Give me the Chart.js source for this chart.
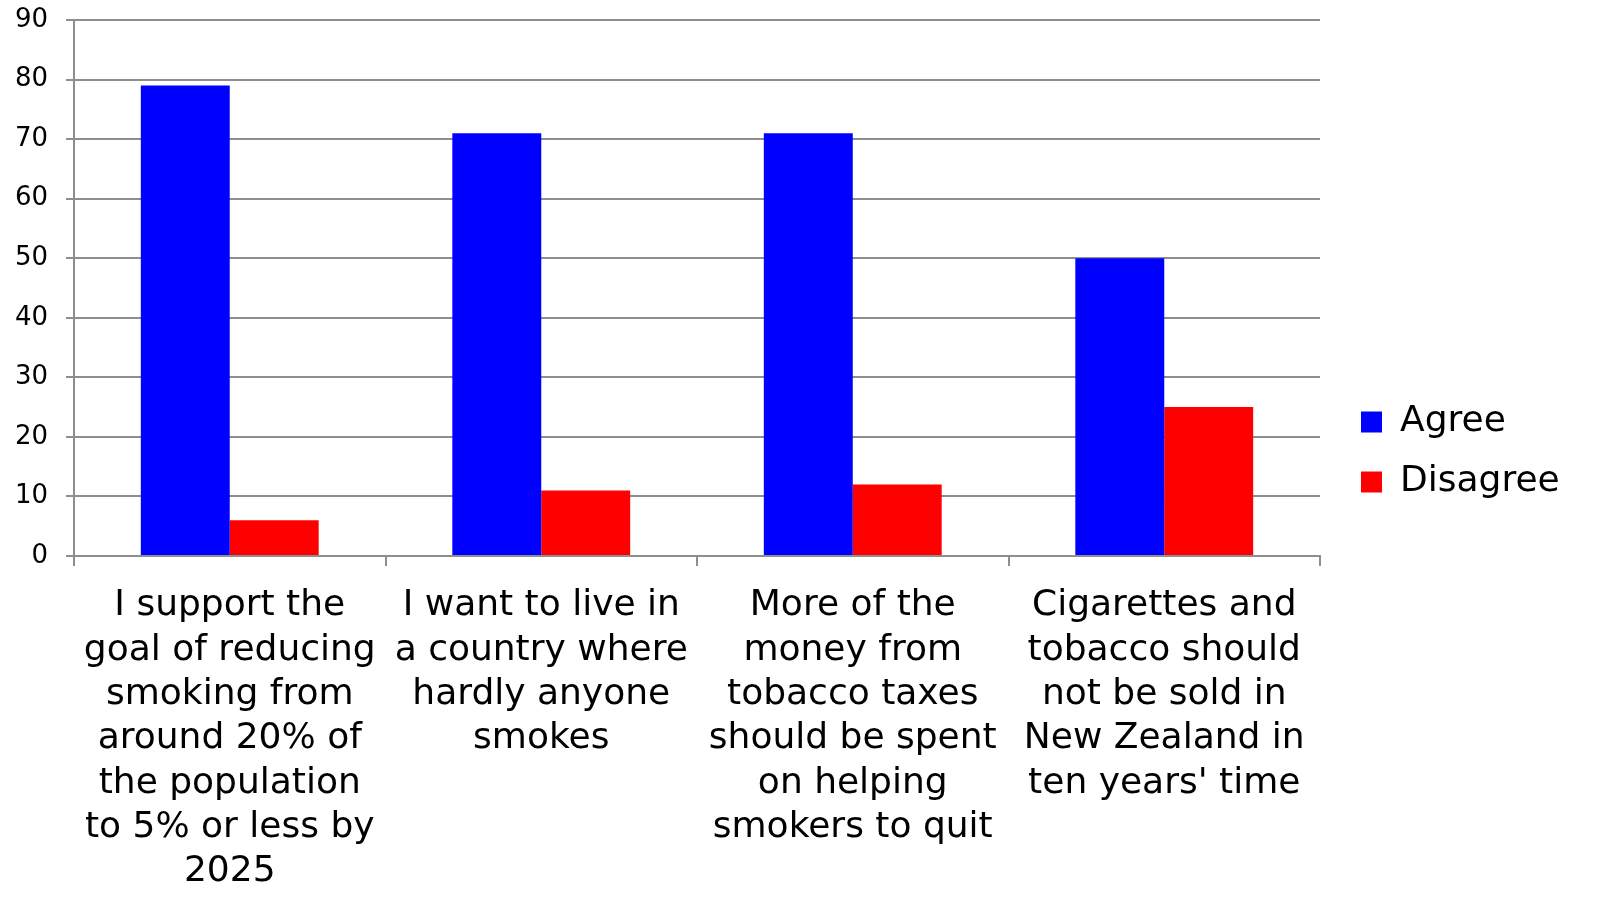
<!DOCTYPE html>
<html>
<head>
<meta charset="utf-8">
<script src="https://cdn.jsdelivr.net/npm/chart.js@4/dist/chart.umd.min.js"></script>
<style>
  html, body { margin: 0; padding: 0; background: #ffffff; }
  #wrap { width: 1604px; height: 909px; }
</style>
</head>
<body>
<div id="wrap"><canvas id="c" width="1604" height="909"></canvas></div>
<script>
const categories = [
  ["I support the", "goal of reducing", "smoking from", "around 20% of", "the population", "to 5% or less by", "2025"],
  ["I want to live in", "a country where", "hardly anyone", "smokes"],
  ["More of the", "money from", "tobacco taxes", "should be spent", "on helping", "smokers to quit"],
  ["Cigarettes and", "tobacco should", "not be sold in", "New Zealand in", "ten years' time"]
];
const seriesNames = ["Agree", "Disagree"];
const agreeValues = [79, 71, 71, 50];
const disagreeValues = [6, 11, 12, 25];
const yMin = 0, yMax = 90, yStep = 10;

const GRID = '#8e8e8e';
const FONT = '"DejaVu Sans", Verdana, sans-serif';

const legendFix = {
  id: 'legendFix',
  beforeLayout(chart) {
    const lg = chart.legend;
    if (lg && !lg._patched) {
      const orig = lg.fit.bind(lg);
      lg.fit = function () { orig(); this.width = 284; };
      lg._patched = true;
    }
  },
  afterLayout(chart) {
    const lg = chart.legend;
    if (!lg) return;
    const pad = lg.options.labels.padding;
    lg.left = 1361 - pad;
    lg.right = lg.left + 284;
    lg.top = 404 - pad;
    lg.bottom = 909;
  }
};

new Chart(document.getElementById('c'), {
  type: 'bar',
  data: {
    labels: categories,
    datasets: [
      { label: seriesNames[0], data: agreeValues, backgroundColor: '#0000ff', borderWidth: 0,
        categoryPercentage: 0.571, barPercentage: 1.0 },
      { label: seriesNames[1], data: disagreeValues, backgroundColor: '#ff0000', borderWidth: 0,
        categoryPercentage: 0.571, barPercentage: 1.0 }
    ]
  },
  plugins: [legendFix],
  options: {
    responsive: false,
    devicePixelRatio: 1,
    animation: false,
    layout: { padding: { top: 20, right: 0, bottom: 0, left: 0 } },
    plugins: {
      legend: {
        position: 'right',
        align: 'start',
        labels: {
          boxWidth: 21,
          boxHeight: 21,
          padding: 24,
          color: '#000000',
          font: { family: FONT, size: 36 }
        }
      },
      tooltip: { enabled: false }
    },
    scales: {
      x: {
        afterFit(scale) { scale.height = 353; },
        grid: { drawOnChartArea: false, drawTicks: true, tickLength: 10, color: GRID, lineWidth: 2, offset: true },
        border: { display: true, color: GRID, width: 2 },
        ticks: {
          color: '#000000',
          font: { family: FONT, size: 36, lineHeight: 1.23 },
          maxRotation: 0, minRotation: 0, autoSkip: false, padding: 18
        }
      },
      y: {
        min: yMin, max: yMax,
        afterFit(scale) { scale.width = 74; scale.paddingTop = 0; scale.paddingBottom = 0; },
        grid: { color: GRID, lineWidth: 2, drawTicks: true, tickLength: 8 },
        border: { display: true, color: GRID, width: 2 },
        ticks: {
          stepSize: yStep,
          color: '#000000',
          font: { family: FONT, size: 26 },
          padding: 18
        }
      }
    }
  }
});
</script>
</body>
</html>
